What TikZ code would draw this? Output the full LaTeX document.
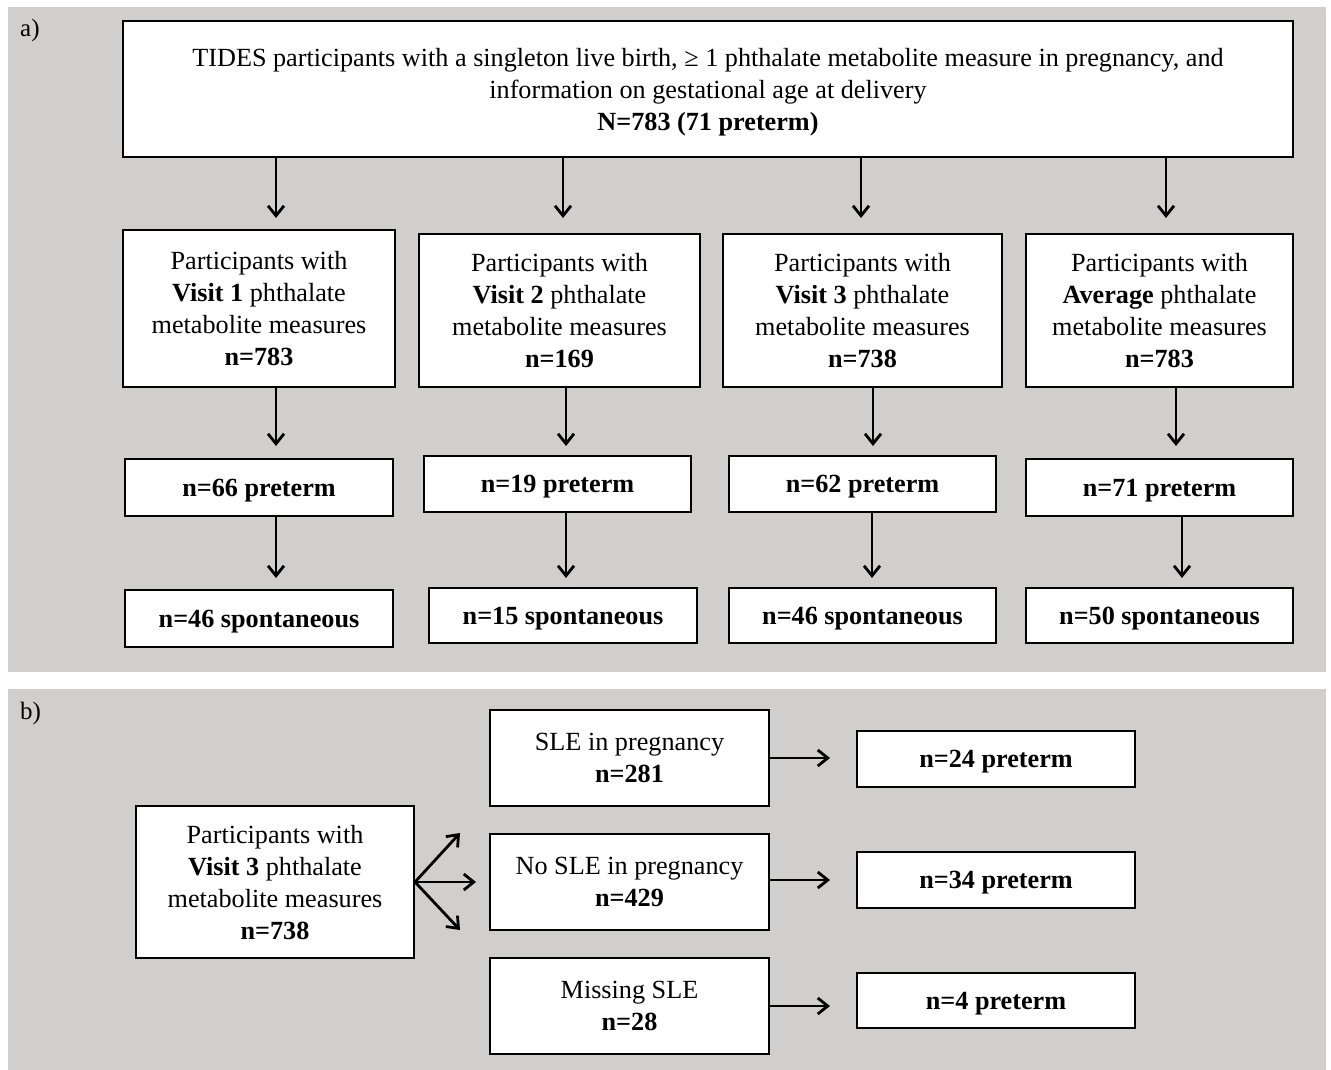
\documentclass[tikz,border=0pt]{standalone}
\usepackage{fontspec}
\setmainfont{Liberation Serif}
\usetikzlibrary{arrows.meta}
\definecolor{panelgray}{RGB}{208,207,205}
\begin{document}
\begin{tikzpicture}[x=1pt,y=-1pt,
  box/.style={draw=black, line width=2pt, fill=white, inner sep=0pt, align=center,
    text depth=0pt, font=\fontsize{26.2}{32}\selectfont},
  arr/.style={line width=2.8pt, -{Straight Barb[length=10pt,width=16pt,line width=2.8pt]}},
  lbl/.style={font=\fontsize{25}{28}\selectfont, anchor=north west, inner sep=0pt}
]
\useasboundingbox (0,0) rectangle (1331,1070);
\fill[panelgray] (8,7) rectangle (1326,672);
\fill[panelgray] (8,689) rectangle (1326,1070);
\node[lbl] (la) at (20,19) {a)};
\node[lbl] (lb) at (20,702) {b)};

% panel a
\node[box, minimum width=1170pt, minimum height=136pt] (top) at (708,89)
  {TIDES participants with a singleton live birth, ≥ 1 phthalate metabolite measure in pregnancy, and\\
   information on gestational age at delivery\\ \textbf{N=783 (71 preterm)}};

\node[box, minimum width=272pt, minimum height=157pt] (v1) at (259,308.5)
  {Participants with\\ \textbf{Visit 1} phthalate\\ metabolite measures\\ \textbf{n=783}};
\node[box, minimum width=281pt, minimum height=153pt] (v2) at (559.5,310.5)
  {Participants with\\ \textbf{Visit 2} phthalate\\ metabolite measures\\ \textbf{n=169}};
\node[box, minimum width=279pt, minimum height=153pt] (v3) at (862.5,310.5)
  {Participants with\\ \textbf{Visit 3} phthalate\\ metabolite measures\\ \textbf{n=738}};
\node[box, minimum width=267pt, minimum height=153pt] (v4) at (1159.5,310.5)
  {Participants with\\ \textbf{Average} phthalate\\ metabolite measures\\ \textbf{n=783}};

\node[box, minimum width=268pt, minimum height=57pt] (p1) at (259,487.5) {\textbf{n=66 preterm}};
\node[box, minimum width=267pt, minimum height=56pt] (p2) at (557.5,484) {\textbf{n=19 preterm}};
\node[box, minimum width=267pt, minimum height=56pt] (p3) at (862.5,484) {\textbf{n=62 preterm}};
\node[box, minimum width=267pt, minimum height=57pt] (p4) at (1159.5,487.5) {\textbf{n=71 preterm}};

\node[box, minimum width=268pt, minimum height=57pt] (s1) at (259,618.5) {\textbf{n=46 spontaneous}};
\node[box, minimum width=268pt, minimum height=55pt] (s2) at (563,615.5) {\textbf{n=15 spontaneous}};
\node[box, minimum width=267pt, minimum height=55pt] (s3) at (862.5,615.5) {\textbf{n=46 spontaneous}};
\node[box, minimum width=267pt, minimum height=55pt] (s4) at (1159.5,615.5) {\textbf{n=50 spontaneous}};

\draw[arr] (top.south -| 276,0) -- (276,218);
\draw[arr] (top.south -| 563,0) -- (563,218);
\draw[arr] (top.south -| 861,0) -- (861,218);
\draw[arr] (top.south -| 1166,0) -- (1166,218);

\draw[arr] (v1.south -| 276,0) -- (276,446);
\draw[arr] (v2.south -| 566,0) -- (566,446);
\draw[arr] (v3.south -| 873,0) -- (873,446);
\draw[arr] (v4.south -| 1176,0) -- (1176,446);

\draw[arr] (p1.south -| 276,0) -- (276,578);
\draw[arr] (p2.south -| 566,0) -- (566,578);
\draw[arr] (p3.south -| 872,0) -- (872,578);
\draw[arr] (p4.south -| 1182,0) -- (1182,578);

% panel b
\node[box, minimum width=278pt, minimum height=152pt] (b0) at (275,882)
  {Participants with\\ \textbf{Visit 3} phthalate\\ metabolite measures\\ \textbf{n=738}};
\node[box, minimum width=279pt, minimum height=96pt] (m1) at (629.5,758) {SLE in pregnancy\\ \textbf{n=281}};
\node[box, minimum width=279pt, minimum height=96pt] (m2) at (629.5,882) {No SLE in pregnancy\\ \textbf{n=429}};
\node[box, minimum width=279pt, minimum height=96pt] (m3) at (629.5,1006) {Missing SLE\\ \textbf{n=28}};

\node[box, minimum width=278pt, minimum height=56pt] (r1) at (996,759) {\textbf{n=24 preterm}};
\node[box, minimum width=278pt, minimum height=56pt] (r2) at (996,880) {\textbf{n=34 preterm}};
\node[box, minimum width=278pt, minimum height=55pt] (r3) at (996,1000.5) {\textbf{n=4 preterm}};

\coordinate (fork) at (b0.east);
\draw[arr] (fork) -- (460,833);
\draw[arr] (fork) -- (476,882);
\draw[arr] (fork) -- (460,930);

\draw[arr] (m1.east |- 0,758) -- (830,758);
\draw[arr] (m2.east |- 0,880) -- (830,880);
\draw[arr] (m3.east |- 0,1006) -- (830,1006);
\end{tikzpicture}
\end{document}
